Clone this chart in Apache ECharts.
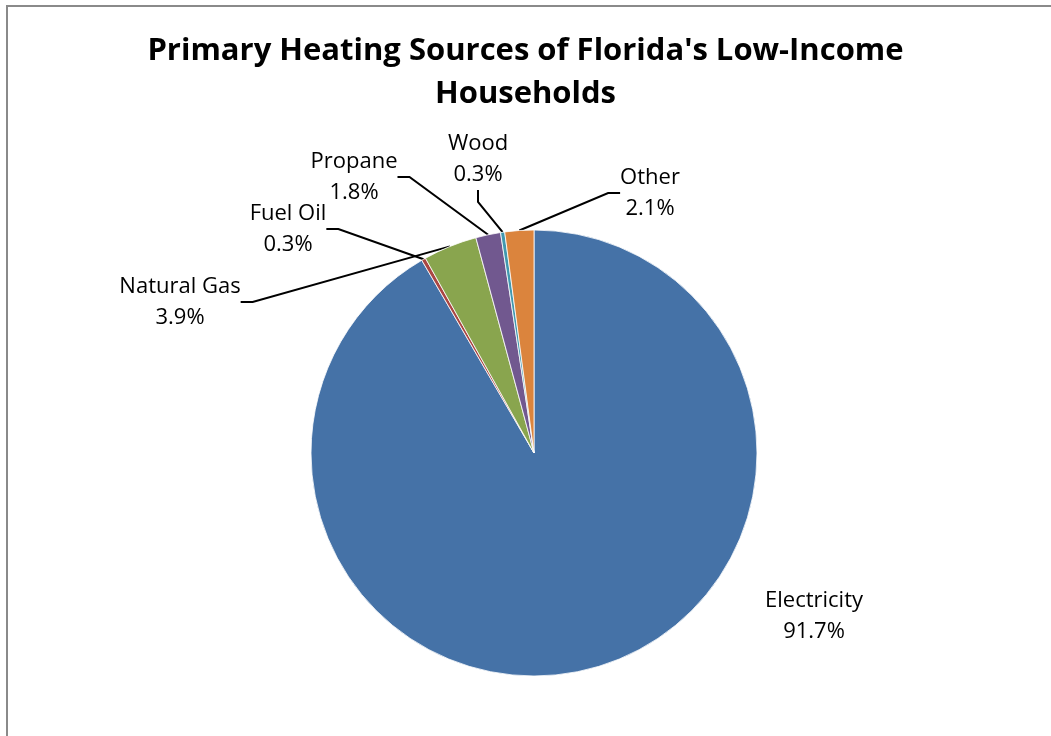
<!DOCTYPE html>
<html>
<head>
<meta charset="utf-8">
<script src="https://cdn.jsdelivr.net/npm/echarts@6/dist/echarts.min.js"></script>
<style>
  html, body { margin: 0; padding: 0; background: #fff; }
  #frame {
    position: absolute; left: 6px; top: 5px; width: 1045px; height: 731px;
    border-left: 2px solid #8a8a8a; border-top: 2px solid #8a8a8a;
  }
  #chart { position: absolute; left: 0; top: 0; width: 1051px; height: 736px; }
</style>
</head>
<body>
<div id="frame"></div>
<div id="chart"></div>
<script>
const categories = ['Electricity', 'Fuel Oil', 'Natural Gas', 'Propane', 'Wood', 'Other']
const shares = [91.7, 0.3, 3.9, 1.8, 0.3, 2.1]
const colors = ['#4572A7', '#AA4643', '#89A54E', '#71588F', '#4198AF', '#DB843D']

// where each label sits (text centre), Excel style manual placement
const labelPos = [[814, 616], [288, 229], [180, 302], [354, 177], [478, 159], [650, 193]]

const font = '"Open Sans", Lato, sans-serif'

const chart = echarts.init(document.getElementById('chart'))

const option = {
  animation: false,
  title: {
    text: "Primary Heating Sources of Florida's Low-Income\nHouseholds",
    left: 'center',
    top: 25,
    textStyle: {
      fontFamily: font,
      fontWeight: 'bold',
      fontSize: 31,
      lineHeight: 43,
      color: '#000'
    }
  },
  series: [{
    type: 'pie',
    center: [534, 453],
    radius: 223,
    startAngle: 90,
    clockwise: true,
    avoidLabelOverlap: false,
    itemStyle: { borderColor: '#fff', borderWidth: 0.8 },
    label: {
      show: true,
      position: 'outside',
      formatter: p => p.name + '\n' + p.value + '%',
      fontFamily: font,
      fontSize: 22,
      lineHeight: 31,
      color: '#000',
      align: 'center'
    },
    labelLine: {
      show: true,
      length: 15,
      length2: 12,
      lineStyle: { color: '#000', width: 2 }
    },
    labelLayout: params => {
      const pos = labelPos[params.dataIndex]
      return {
        x: pos[0],
        y: pos[1],
        align: 'center',
        verticalAlign: 'middle'
      }
    },
    emphasis: { disabled: true },
    data: categories.map((name, i) => ({
      name,
      value: shares[i],
      itemStyle: { color: colors[i] },
      labelLine: { show: i !== 0 }
    }))
  }]
}

chart.setOption(option)
</script>
</body>
</html>
